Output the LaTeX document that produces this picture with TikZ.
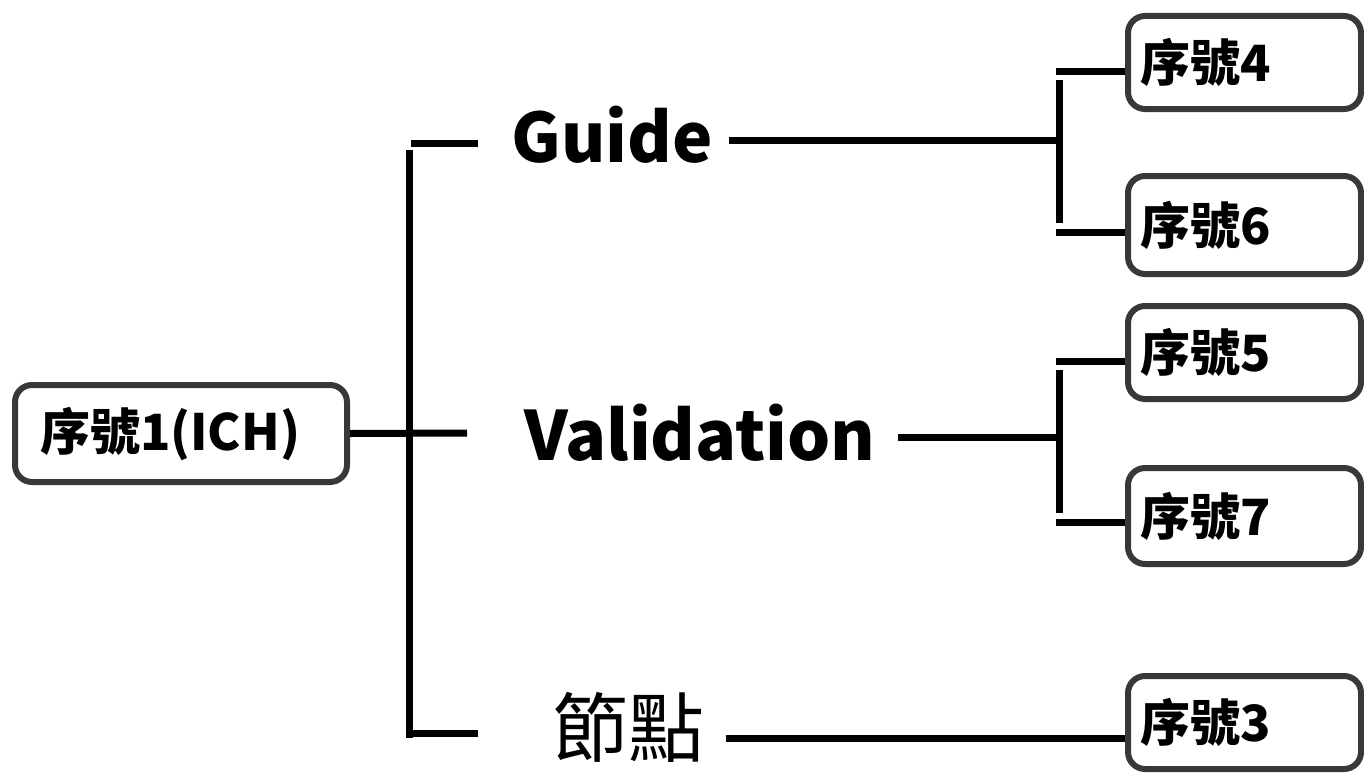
\documentclass[tikz,border=0pt]{standalone}
\usepackage{fontspec}
\setmainfont{Noto Sans CJK TC}
\begin{document}
\begin{tikzpicture}[x=1pt,y=-1pt,
  box/.style={draw=black!78, line width=6pt, rounded corners=17pt, fill=white,
    font=\fontsize{50}{56}\selectfont\bfseries, align=left, inner ysep=0pt, anchor=west},
  rbox/.style={box, inner xsep=12pt, text width=209pt},
  lab/.style={font=\fontsize{68}{78}\selectfont\bfseries, inner xsep=16pt, inner ysep=0pt},
  conn/.style={line width=7pt, line cap=butt, black}]
\useasboundingbox (0,0) rectangle (1364,776);
% nodes
\node[box, inner xsep=25pt, text width=282pt, minimum height=97pt] (n1) at (12,433.5) {序號1(ICH)};
\node[rbox, minimum height=93pt] (b4) at (1125,62.5) {序號4};
\node[rbox, minimum height=98pt] (b6) at (1125,225) {序號6};
\node[rbox, minimum height=93pt] (b5) at (1125,352.5) {序號5};
\node[rbox, minimum height=96pt] (b7) at (1125,516) {序號7};
\node[rbox, minimum height=93pt] (b3) at (1125,722.5) {序號3};
\node[lab, anchor=base] (guide) at (612,162) {Guide};
\node[lab, anchor=base, inner xsep=22pt] (valid) at (700,460) {Validation};
\node[font=\fontsize{76}{86}\selectfont, inner xsep=22pt, inner ysep=0pt] (jd) at (628,727.5) {節點};
% left bracket
\coordinate (m0) at (467,433);
\coordinate (vt) at (409,150);
\coordinate (vb) at (409,738);
\coordinate (ts1) at (411,143);
\coordinate (ts2) at (478,143);
\coordinate (bs1) at (405.5,733);
\coordinate (bs2) at (478,733);
\draw[conn] (n1.east) -- (m0);
\draw[conn] (vt) -- (vb);
\draw[conn] (ts1) -- (ts2);
\draw[conn] (bs1) -- (bs2);
% Guide bracket
\coordinate (jg) at (1059,140);
\coordinate (g1) at (1059,80);
\coordinate (g2) at (1059,223);
\coordinate (s4) at (1056,71);
\coordinate (s6) at (1056,232);
\draw[conn] (guide.east |- jg) -- (jg);
\draw[conn] (g1) -- (g2);
\draw[conn] (s4) -- (s4 -| b4.west);
\draw[conn] (s6) -- (s6 -| b6.west);
% Validation bracket
\coordinate (jv) at (1059,437);
\coordinate (v1) at (1059,370);
\coordinate (v2) at (1059,513);
\coordinate (s5) at (1056,361);
\coordinate (s7) at (1056,522);
\draw[conn] (valid.east |- jv) -- (jv);
\draw[conn] (v1) -- (v2);
\draw[conn] (s5) -- (s5 -| b5.west);
\draw[conn] (s7) -- (s7 -| b7.west);
% node line
\coordinate (j3) at (1059,738);
\draw[conn] (jd.east |- j3) -- (j3);
\draw[conn] (j3) -- (j3 -| b3.west);
\end{tikzpicture}
\end{document}
